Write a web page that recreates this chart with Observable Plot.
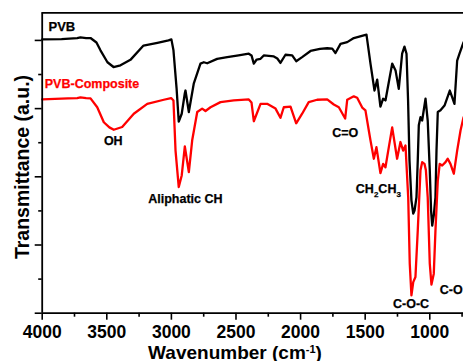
<!DOCTYPE html>
<html>
<head>
<meta charset="utf-8">
<script src="https://cdn.jsdelivr.net/npm/d3@7"></script>
<script src="https://cdn.jsdelivr.net/npm/@observablehq/plot@0.6"></script>
<style>
  html, body { margin: 0; padding: 0; background: #fff; overflow: hidden; }
  #chart { width: 463px; height: 361px; }
</style>
</head>
<body>
<div id="chart"></div>
<script>
// ---- data (wavenumber in cm^-1, transmittance in arbitrary units) ----
const pvbWavenumber = [4000,3850,3729,3704,3660,3626,3580,3549,3495,3448,3394,3317,3216,3108,3022,3000,2984,2960,2943,2920,2896,2891,2865,2827,2775,2749,2723,2646,2568,2480,2401,2380,2362,2340,2310,2285,2207,2180,2156,2117,2065,2034,1988,1923,1850,1794,1755,1730,1691,1639,1588,1511,1490,1459,1428,1407,1382,1361,1343,1317,1291,1265,1240,1214,1196,1180,1168,1157,1142,1128,1118,1103,1093,1085,1072,1059,1033,1016,1000,990,981,969,956,948,938,917,886,845,827,809,788,770,739];
const pvbTransmittance = [8.03,8.04,8.07,8.09,8.07,8.07,7.94,7.71,7.36,7.22,7.27,7.43,7.85,7.93,8.00,8.03,7.71,6.60,5.62,5.85,6.45,6.53,5.90,6.73,7.32,7.36,7.33,7.46,7.51,7.56,7.61,7.56,7.32,7.44,7.46,7.56,7.53,7.47,7.34,7.58,7.56,7.39,7.51,7.69,7.75,7.77,7.76,7.63,7.90,7.95,8.07,8.15,8.17,7.32,6.53,6.85,6.06,6.29,6.24,6.78,7.32,7.12,6.58,7.61,7.82,7.61,6.24,4.48,3.31,2.92,3.01,3.40,4.48,5.51,5.75,5.65,6.29,5.65,4.19,3.01,2.57,2.87,3.40,4.77,5.90,5.95,6.09,6.53,6.34,6.14,7.41,7.61,7.94];

const compWavenumber = [4000,3800,3729,3704,3660,3626,3574,3523,3480,3446,3381,3291,3187,3059,3002,2984,2968,2943,2920,2896,2865,2839,2800,2762,2736,2697,2620,2517,2401,2380,2362,2310,2259,2194,2156,2130,2078,2034,1988,1937,1872,1794,1743,1704,1655,1639,1588,1562,1523,1498,1472,1459,1433,1413,1382,1361,1343,1317,1291,1253,1227,1206,1188,1167,1155,1142,1128,1111,1093,1072,1059,1041,1030,1016,1000,987,969,956,938,923,904,878,861,840,814,788,762,739];
const compTransmittance = [6.27,6.30,6.31,6.33,6.31,6.30,6.04,5.60,5.45,5.38,5.46,5.85,6.14,6.26,6.31,6.24,4.77,3.70,4.04,4.89,4.14,5.07,5.90,6.00,5.93,6.04,6.19,6.24,6.27,6.18,5.63,6.14,6.14,6.00,5.73,6.04,6.06,5.57,5.85,6.19,6.26,6.27,6.12,6.04,5.71,6.26,6.36,6.32,6.03,5.95,5.36,5.07,4.53,4.87,4.11,4.38,4.28,4.87,5.45,4.53,5.02,4.77,4.92,3.40,1.45,0.52,0.91,1.06,2.43,4.19,4.43,4.38,4.19,3.40,1.45,0.84,1.16,2.43,3.89,4.38,4.33,4.43,4.53,4.38,4.09,4.77,5.36,5.74];

const seriesNames = ["PVB", "PVB-Composite"];
const seriesColors = ["#000000", "#ff0000"];

// annotations
const labelTexts  = ["PVB", "PVB-Composite", "OH", "Aliphatic CH", "C=O", "CH2CH3", "C-O-C", "C-O"];
const labelX      = [3951, 3980, 3450, 2892, 1655, 1398, 1145, 923];
const labelY      = [8.39, 6.71, 5.04, 3.36, 5.29, 3.63, 0.26, 0.67];
const labelColors = ["#000000", "#ff0000", "#000000", "#000000", "#000000", "#000000", "#000000", "#000000"];
const labelAnchor = ["start", "start", "middle", "middle", "middle", "middle", "middle", "start"];
const labelSize   = [13, 12.5, 12.5, 12.5, 12.5, 12.5, 12.5, 12.5];

// axes
const xDomain = [4000, 739];
const yDomain = [0, 8.81];
const xMajorTicks = [4000, 3500, 3000, 2500, 2000, 1500, 1000];
const xMinorTicks = [3750, 3250, 2750, 2250, 1750, 1250, 750];
const yMajorTicks = [0, 2, 4, 6, 8];
const yMinorTicks = [1, 3, 5, 7];
const xTitle = "Wavenumber (cm";
const xTitleSup = "-1";
const yTitle = "Transmittance (a.u.)";

// ---- build tables ----
const rows = [];
pvbWavenumber.forEach((w, i) => rows.push({series: seriesNames[0], w, t: pvbTransmittance[i]}));
compWavenumber.forEach((w, i) => rows.push({series: seriesNames[1], w, t: compTransmittance[i]}));
const labels = labelTexts.map((text, i) => ({text, x: labelX[i], y: labelY[i], color: labelColors[i], anchor: labelAnchor[i], size: labelSize[i]}));

const FONT = "'Liberation Sans', Arial, Helvetica, sans-serif";

const textMarks = [];
for (const anchor of ["start", "middle"]) {
  for (const size of [...new Set(labelSize)]) {
    const sub = labels.filter(d => d.anchor === anchor && d.size === size);
    if (!sub.length) continue;
    textMarks.push(Plot.text(sub, {
      x: "x", y: "y", text: "text", fill: "color",
      textAnchor: anchor, lineAnchor: "middle",
      fontSize: size, fontWeight: "bold", fontFamily: FONT,
      stroke: "color", strokeWidth: 0.25
    }));
  }
}

const chart = Plot.plot({
  width: 463,
  height: 361,
  marginLeft: 41.7,
  marginRight: 0,
  marginTop: 12.3,
  marginBottom: 48.3,
  style: {fontFamily: FONT, fontWeight: "bold", fontSize: "17.5px", background: "#fff", color: "#000"},
  x: {domain: xDomain},
  y: {domain: yDomain},
  color: {domain: seriesNames, range: seriesColors},
  marks: [
    Plot.axisX({ticks: xMajorTicks, tickSize: 7, tickPadding: 5, tickFormat: d => String(d), label: null, strokeWidth: 1.6, fontSize: 17.5, fontWeight: "bold"}),
    Plot.axisX({ticks: xMinorTicks, tickSize: 4, tickFormat: () => "", label: null, strokeWidth: 1.6}),
    Plot.axisY({ticks: yMajorTicks, tickSize: 7, tickFormat: () => "", label: null, strokeWidth: 1.6}),
    Plot.axisY({ticks: yMinorTicks, tickSize: 3.5, tickFormat: () => "", label: null, strokeWidth: 1.6}),
    Plot.line(rows, {x: "w", y: "t", z: "series", stroke: "series", strokeWidth: 2.3, strokeLinejoin: "round"}),
    Plot.ruleY([yDomain[0]], {strokeWidth: 1.8}),
    Plot.ruleY([yDomain[1]], {strokeWidth: 1.8}),
    Plot.ruleX([xDomain[0]], {strokeWidth: 1.8}),
    ...textMarks
  ]
});

document.getElementById("chart").appendChild(chart);

// ---- rich text: subscripts / superscripts and axis titles ----
const svg = d3.select(chart);
svg.selectAll("text").filter(function() { return this.textContent === "CH2CH3"; }).each(function() {
  const t = d3.select(this);
  t.text(null);
  t.append("tspan").text("CH");
  t.append("tspan").attr("font-size", 8).style("font-size", "8px").attr("dy", 3.5).text("2");
  t.append("tspan").attr("dy", -3.5).text("CH");
  t.append("tspan").attr("font-size", 8).style("font-size", "8px").attr("dy", 3.5).text("3");
});

const xt = svg.append("text")
  .attr("x", 235).attr("y", 358.5)
  .attr("text-anchor", "middle")
  .attr("font-family", FONT).attr("font-weight", "bold")
  .style("font-size", "19px").attr("fill", "#000");
xt.append("tspan").text(xTitle);
xt.append("tspan").style("font-size", "11px").attr("dy", -6).text(xTitleSup);
xt.append("tspan").attr("dy", 6).text(")");

svg.append("text")
  .attr("transform", "translate(28.5,167) rotate(-90)")
  .attr("text-anchor", "middle")
  .attr("font-family", FONT).attr("font-weight", "bold")
  .style("font-size", "19.5px").attr("fill", "#000")
  .text(yTitle);
</script>
</body>
</html>
